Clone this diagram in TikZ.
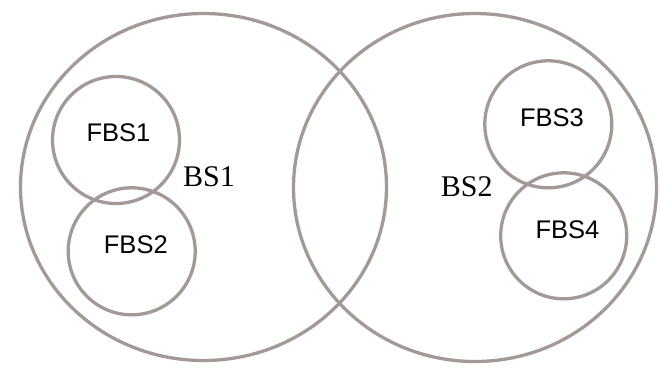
\documentclass[tikz,border=0pt]{standalone}
\usepackage{fontspec}
\setmainfont{Liberation Serif}
\newfontfamily\arialfont{Liberation Sans}
\usetikzlibrary{positioning}

\definecolor{cellgray}{RGB}{163,153,150}

\tikzset{
  cell/.style={draw=cellgray, line width=3.3pt},
  femtolabel/.style={anchor=base, inner sep=0pt, font=\arialfont\fontsize{25.5}{28}\selectfont},
  baselabel/.style={anchor=base, inner sep=0pt, font=\fontsize{30}{34}\selectfont}
}

\begin{document}
\begin{tikzpicture}[x=1pt,y=-1pt]
\useasboundingbox (0,0) rectangle (660,365);
% macro cells
\draw[cell] (203.5,187) ellipse (183 and 173.5);
\draw[cell] (475,187.5) ellipse (181.5 and 174);
% femto cells
\draw[cell] (116,140) circle (63.5);
\draw[cell] (131.7,251.3) circle (63.5);
\draw[cell] (548.3,124.3) circle (63.5);
\draw[cell] (563.7,235.8) circle (63);
% labels
\node[femtolabel] (fbs1) at (118.5,141.7) {FBS1};
\node[femtolabel] (fbs2) at (135.8,253.3) {FBS2};
\node[femtolabel] (fbs3) at (552,126) {FBS3};
\node[femtolabel] (fbs4) at (567.5,238) {FBS4};
\node[baselabel] (bs1) at (209,186.7) {BS1};
\node[baselabel] (bs2) at (466.7,196.7) {BS2};
\end{tikzpicture}
\end{document}
